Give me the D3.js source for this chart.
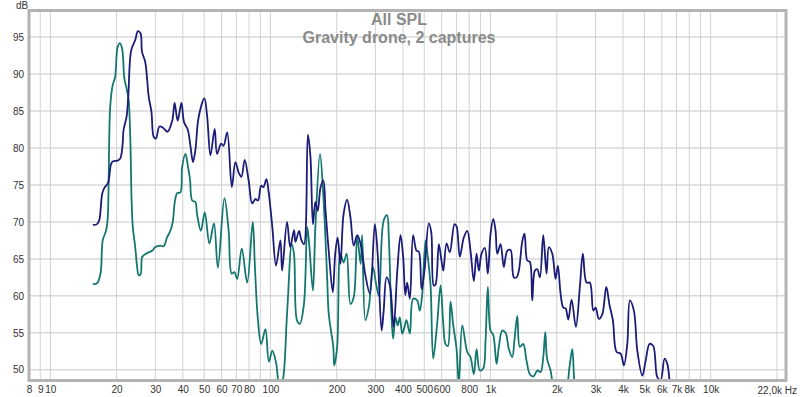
<!DOCTYPE html>
<html>
<head>
<meta charset="utf-8">
<script src="https://cdn.jsdelivr.net/npm/d3@7"></script>
<style>
  body { margin: 0; background: #fff; }
  text { font-family: 'Liberation Sans', Arial, sans-serif; }
</style>
</head>
<body>
<script>
const captureA = [
  [15.6,69.6],[16.3,69.7],[16.7,70.3],[17.2,73.8],[17.6,74.6],[18.3,75.3],[18.9,77.9],[19.3,78.2],
  [20.2,78.3],[20.8,78.6],[21.3,80.5],[21.5,82.4],[22.2,84.2],[22.6,87],[23.3,93.2],[24.3,94.6],
  [25.0,95.8],[25.7,95.5],[26.1,93],[27.0,91.6],[28.0,86.9],[28.8,84.9],[29.5,81.5],[30.2,81.3],
  [31.3,82.9],[32.6,82.7],[34.1,82.2],[35.8,83.7],[36.7,86.1],[37.9,83.7],[39.4,86.1],[40.5,83.5],
  [42.1,82.5],[43.3,80.3],[44.5,78.1],[45.6,79.7],[47.2,84.2],[50.1,86.7],[51.6,84.2],[53.4,79],
  [55.8,82.6],[57.2,79.2],[59.7,80.6],[61.2,80.3],[63.6,82.1],[66.8,74.7],[69.3,78.1],[71.9,76.6],
  [73.8,76.1],[76.4,78.4],[79.7,75.5],[82.6,72.5],[85.5,73.1],[87.9,72.9],[90.7,74.9],[92.9,74.7],
  [95.9,75.8],[98.2,74],[102,69.3],[106,64.1],[111,67.5],[113,63.4],[119,70],[123,66.6],
  [128,68.9],[130,67.3],[135,68.8],[138,67.6],[142,67],[148,81.8],[152,78.8],[156,69.7],
  [160,72.7],[164,71.5],[169,74.7],[174,75.6],[178,71.5],[184,66.1],[192,60.5],[197,65.7],
  [202,67.9],[208,64.3],[215,71.1],[223,73],[231,70.6],[239,66.8],[248,68.2],[257,67],
  [270,62.8],[283,60.3],[298,69.7],[307,65.7],[320,55.3],[327,58],[337,62.5],[349,61.4],
  [363,55.8],[377,63.4],[390,68.2],[401,65.2],[410,60.1],[418,61.8],[430,59.6],[445,68.2],
  [461,66.1],[472,66],[486,60.9],[501,63.4],[524,69.8],[538,68.6],[552,61.4],[562,61.5],
  [582,67],[597,65],[610,63.4],[631,67.1],[653,65.9],[686,69.7],[701,69.4],[725,65.3],
  [756,67.9],[784,68.8],[811,66.1],[840,62],[864,65.7],[885,63.4],[910,65.7],[942,66.5],
  [972,63],[1000,68.4],[1029,70.4],[1054,68.8],[1073,65.7],[1111,67],[1149,63.9],[1191,66.1],
  [1233,66.2],[1276,62.5],[1313,62.5],[1345,63.4],[1394,67.4],[1427,68.4],[1468,64.8],[1509,64.6],
  [1547,59.4],[1590,63.4],[1631,63.6],[1676,62.5],[1736,68.2],[1797,63],[1841,66.6],[1908,65.7],
  [1975,62.3],[2023,64.1],[2081,60.3],[2141,58.4],[2193,58.3],[2256,56.8],[2335,59.5],[2442,55.8],
  [2546,61.2],[2627,65.7],[2731,61.8],[2827,61.8],[2930,58],[3001,58.4],[3107,56.9],[3219,57.5],
  [3357,61.2],[3475,58.7],[3597,56.7],[3739,52.4],[3899,52.2],[4036,50.6],[4182,53.5],[4297,59.4],
  [4481,58],[4644,52.6],[4893,49.2],[5065,51.2],[5281,53.5],[5489,53.2],[5724,49],[5925,48.6],
  [6179,51.5],[6356,50.8],[6531,48.2],[6719,46]
]

const captureB = [
  [15.6,61.6],[16.3,61.7],[16.9,63],[17.3,67.5],[17.9,68.8],[18.2,70.2],[18.7,85.5],[19.2,88.5],
  [19.7,89.6],[20.2,93.6],[20.7,94.2],[21.2,93.4],[21.7,89.4],[22.3,87.8],[22.7,86.4],[23.1,81],
  [23.4,72.9],[23.7,69.3],[24.3,66.6],[24.8,63.9],[25.2,62.8],[25.7,62.9],[26.1,65.2],[26.6,65.5],
  [27.6,65.8],[29.0,66.1],[30.0,66.6],[31.6,66.8],[32.7,66.7],[33.9,67.9],[35.1,68.8],[36.0,70],
  [36.7,72.5],[37.7,73.9],[39.0,74],[39.7,77.4],[41.1,79.2],[42.2,77.5],[43.1,75.8],[44.1,72.9],
  [45.6,72.7],[46.4,71.1],[48.3,68.8],[50.3,71.3],[52.8,67.1],[55.4,69.8],[57.7,63.8],[61.8,73.2],
  [64.6,68.8],[66.7,63],[68.6,63.2],[70.6,62.3],[74.1,66.4],[78.4,61.8],[83.1,70],[85.0,64],
  [87.6,57],[90.8,53.5],[94.9,55.5],[98.4,51.1],[102,52.6],[106,51],[110,47.8],[113,48.2],
  [119,57.6],[125,67],[128,65.6],[132,56.7],[136,56.2],[142,58.9],[147,69.3],[150,67],
  [156,60.7],[160,69.3],[168,79.2],[174,73.4],[181,62.5],[184,57.6],[193,53.1],[195,50.6],
  [201,53.1],[208,65.7],[215,64.5],[222,65.7],[231,58.9],[239,59.8],[248,67.9],[257,64.3],
  [261,68.2],[270,56.7],[280,58.5],[292,63.9],[303,61.4],[311,60],[327,70.2],[339,70.9],
  [345,67.9],[354,58],[361,54.2],[370,57.1],[379,56],[387,57.1],[397,54.9],[405,55.6],
  [415,56.7],[430,54.9],[445,59.6],[464,59.4],[477,58],[489,60.1],[507,67.5],[519,65.2],
  [534,61.4],[549,51.5],[572,56.2],[593,61.4],[610,56.2],[624,53.5],[640,53.2],[658,59.2],
  [677,56],[701,52.8],[718,48],[744,56],[784,52.4],[811,51.7],[840,49.4],[864,52.8],
  [894,49.9],[927,50.2],[949,53.9],[972,61.2],[1000,55.3],[1029,54.7],[1065,50.8],[1091,53.1],
  [1130,55.3],[1170,55],[1211,52.8],[1255,51.7],[1286,54.2],[1323,57.3],[1359,53.1],[1408,53.5],
  [1458,51.2],[1509,49.4],[1568,49.1],[1631,49.9],[1688,49.7],[1736,51.7],[1773,55.1],[1807,51.5],
  [1874,49.9],[1954,47.5],[2081,47.5],[2215,48],[2287,50.5],[2352,52.8],[2409,48],[2485,46]
]

const dbTicks = [50, 55, 60, 65, 70, 75, 80, 85, 90, 95]
const freqGrid = [8, 9, 10, 20, 30, 40, 50, 60, 70, 80, 90, 100, 200, 300, 400, 500, 600, 700, 800, 900,
  1000, 2000, 3000, 4000, 5000, 6000, 7000, 8000, 9000, 10000, 20000]
const freqLabels = [8, 9, 10, 20, 30, 40, 50, 60, 70, 80, 100, 200, 300, 400, 500, 600, 800,
  1000, 2000, 3000, 4000, 5000, 6000, 7000, 8000, 10000]
const titleLines = ['All SPL', 'Gravity drone, 2 captures']

const svgWidth = 800
const svgHeight = 397

const plot = { left: 29, right: 786, top: 10.5, bottom: 380.5 }

const svg = d3.select('body')
  .append('svg')
  .attr('width', svgWidth)
  .attr('height', svgHeight)

// scales
const x = d3.scaleLog()
  .domain([8, 22000])
  .range([plot.left, plot.right])

const y = d3.scaleLinear()
  .domain([48.55, 98.6])
  .range([plot.bottom, plot.top])

// grid
svg.append('g')
  .selectAll('line')
  .data(dbTicks)
  .enter()
  .append('line')
  .attr('x1', plot.left)
  .attr('x2', plot.right)
  .attr('y1', d => y(d))
  .attr('y2', d => y(d))
  .attr('stroke', '#d9d9d9')
  .attr('stroke-width', 1.5)

svg.append('g')
  .selectAll('line')
  .data(freqGrid)
  .enter()
  .append('line')
  .attr('x1', d => x(d))
  .attr('x2', d => x(d))
  .attr('y1', plot.top)
  .attr('y2', plot.bottom)
  .attr('stroke', '#d2d2d2')
  .attr('stroke-width', 1)

// axis labels
const fmtFreq = d => d >= 1000 ? (d / 1000) + 'k' : String(d)

const xAxis = d3.axisBottom(x)
  .tickValues(freqLabels)
  .tickFormat(fmtFreq)
  .tickSize(0)
  .tickPadding(5)

const gx = svg.append('g')
  .attr('transform', `translate(0, ${plot.bottom})`)
  .call(xAxis)
gx.select('.domain').remove()
gx.selectAll('text').attr('font-size', 10).attr('fill', '#333')

svg.append('text')
  .attr('x', 797)
  .attr('y', 394)
  .attr('text-anchor', 'end')
  .attr('font-size', 10)
  .attr('fill', '#333')
  .text('22,0k Hz')

const yAxis = d3.axisLeft(y)
  .tickValues(dbTicks)
  .tickSize(0)
  .tickPadding(5)

const gy = svg.append('g')
  .attr('transform', `translate(${plot.left}, 0)`)
  .call(yAxis)
gy.select('.domain').remove()
gy.selectAll('text').attr('font-size', 10).attr('fill', '#333')

svg.append('text')
  .attr('x', 16)
  .attr('y', 9)
  .attr('font-size', 10)
  .attr('fill', '#333')
  .text('dB')

// curves, clipped to the plot frame
svg.append('clipPath')
  .attr('id', 'plotclip')
  .append('rect')
  .attr('x', plot.left)
  .attr('y', plot.top)
  .attr('width', plot.right - plot.left)
  .attr('height', plot.bottom - plot.top)

const line = d3.line()
  .x(d => x(d[0]))
  .y(d => y(d[1]))
  .curve(d3.curveCatmullRom.alpha(0.5))

const curves = svg.append('g').attr('clip-path', 'url(#plotclip)')

curves.append('path')
  .datum(captureB)
  .attr('d', line)
  .attr('fill', 'none')
  .attr('stroke', '#13776f')
  .attr('stroke-width', 1.8)

curves.append('path')
  .datum(captureA)
  .attr('d', line)
  .attr('fill', 'none')
  .attr('stroke', '#1b1b78')
  .attr('stroke-width', 1.8)

// frame
svg.append('rect')
  .attr('x', plot.left)
  .attr('y', plot.top)
  .attr('width', plot.right - plot.left)
  .attr('height', plot.bottom - plot.top)
  .attr('fill', 'none')
  .attr('stroke', '#b3b3b3')
  .attr('stroke-width', 3)

// title
svg.append('g')
  .selectAll('text')
  .data(titleLines)
  .enter()
  .append('text')
  .attr('x', 399)
  .attr('y', (d, i) => 25 + i * 18)
  .attr('text-anchor', 'middle')
  .attr('font-size', 16)
  .attr('font-weight', 'bold')
  .attr('fill', '#8a8a8a')
  .text(d => d)
</script>
</body>
</html>
